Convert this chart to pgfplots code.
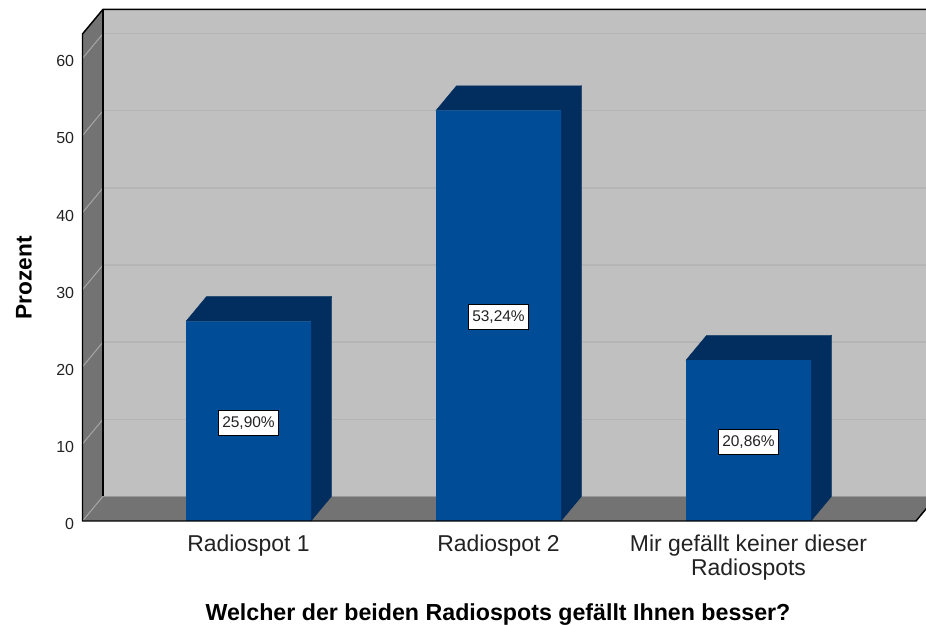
\documentclass[border=0pt]{standalone}
\usepackage{fontspec}
\setmainfont{Liberation Sans}
\usepackage{pgfplots}
\pgfplotsset{compat=1.18}
\definecolor{wall}{HTML}{C0C0C0}
\definecolor{gridl}{HTML}{B5B5B5}
\definecolor{side}{HTML}{737373}
\definecolor{sideline}{HTML}{A6A6A6}
\definecolor{barfront}{HTML}{004C97}
\definecolor{bardark}{HTML}{012E5F}
\definecolor{txt}{HTML}{222222}
\begin{document}
\begin{tikzpicture}
\useasboundingbox (0,0) rectangle (694.5pt,468.75pt);
\clip (0,0) rectangle (694.5pt,468.75pt);
\begin{axis}[
  at={(61.875pt,78pt)}, anchor=south west,
  scale only axis, width=625.125pt, height=365.25pt,
  xmin=-0.664, xmax=2.67, ymin=0, ymax=63.16,
  clip=false,
  axis line style={draw=none},
  major tick length=0pt,
  xtick={0,1,2},
  xticklabels={Radiospot 1,Radiospot 2,{Mir gefällt keiner dieser\\Radiospots}},
  ytick={0,10,20,30,40,50,60},
  /pgf/number format/assume math mode=true,
  yticklabel style={font=\fontsize{12}{14}\selectfont, text=txt, xshift=-2.8pt, yshift=-2.2pt},
  xticklabel style={font=\fontsize{17.2}{18}\selectfont, text=txt, align=center, anchor=north, yshift=-6.7pt},
  xlabel={Welcher der beiden Radiospots gefällt Ihnen besser?},
  ylabel={Prozent},
  every axis x label/.style={at={(axis description cs:0.4985,-0.192)}, anchor=center, font=\fontsize{17.4}{20}\selectfont\bfseries, text=black},
  every axis y label/.style={at={(axis description cs:-0.0702,0.499)}, anchor=center, rotate=90, font=\fontsize{17}{20}\selectfont\bfseries, text=black},
]
% back wall
\addplot[draw=none, fill=wall] coordinates {(-0.582,3.2)(2.752,3.2)(2.752,66.36)(-0.582,66.36)} -- cycle;
% left wall
\addplot[draw=none, fill=side] coordinates {(-0.664,0)(-0.582,3.2)(-0.582,66.36)(-0.664,63.16)} -- cycle;
% floor
\addplot[draw=none, fill=side] coordinates {(-0.664,0)(2.67,0)(2.752,3.2)(-0.582,3.2)} -- cycle;
% grid on the back wall
\foreach \v/\w in {10/13.2,20/23.2,30/33.2,40/43.2,50/53.2,60/63.2}{
  \edef\tmp{\noexpand\addplot[gridl, line width=1pt] coordinates {(-0.582,\w)(2.752,\w)};
  \noexpand\addplot[sideline, line width=0.75pt] coordinates {(-0.664,\v)(-0.582,\w)};}
  \tmp
}
\addplot[sideline, line width=0.75pt] coordinates {(-0.664,0)(-0.582,3.2)};
\addplot[gray!80!white, line width=0.75pt] coordinates {(-0.582,3.2)(2.752,3.2)};
% bars: side and top faces
\addplot[draw=bardark, line width=0.3pt, fill=bardark] coordinates {(0.25,0)(0.332,3.2)(0.332,29.1)(0.25,25.9)} -- cycle;
\addplot[draw=bardark, line width=0.3pt, fill=bardark] coordinates {(-0.25,25.9)(0.25,25.9)(0.332,29.1)(-0.168,29.1)} -- cycle;
\addplot[draw=bardark, line width=0.3pt, fill=bardark] coordinates {(1.25,0)(1.332,3.2)(1.332,56.44)(1.25,53.24)} -- cycle;
\addplot[draw=bardark, line width=0.3pt, fill=bardark] coordinates {(0.75,53.24)(1.25,53.24)(1.332,56.44)(0.832,56.44)} -- cycle;
\addplot[draw=bardark, line width=0.3pt, fill=bardark] coordinates {(2.25,0)(2.332,3.2)(2.332,24.06)(2.25,20.86)} -- cycle;
\addplot[draw=bardark, line width=0.3pt, fill=bardark] coordinates {(1.75,20.86)(2.25,20.86)(2.332,24.06)(1.832,24.06)} -- cycle;
% bars: front faces
\addplot[ybar, bar width=93.75pt, draw=none, fill=barfront] coordinates {(0,25.90)(1,53.24)(2,20.86)};
% frame
\addplot[black, line width=1.1pt] coordinates {(2.752,66.36)(-0.582,66.36)(-0.664,63.16)(-0.664,0)(2.67,0)(2.752,3.2)};
\addplot[black, line width=1.1pt] coordinates {(-0.582,66.36)(-0.582,3.2)};
% value labels
\foreach \x/\y/\t in {0/12.75/{25,90\%},1/26.42/{53,24\%},2/10.23/{20,86\%}}{
  \edef\tmp{\noexpand\node[draw=black, line width=0.7pt, fill=white, text=txt, inner sep=0pt, minimum width=45.5pt, minimum height=18.5pt, font=\noexpand\fontsize{11.6}{13}\noexpand\selectfont] at (axis cs:\x,\y) {\t};}
  \tmp
}
\end{axis}
\end{tikzpicture}
\end{document}
